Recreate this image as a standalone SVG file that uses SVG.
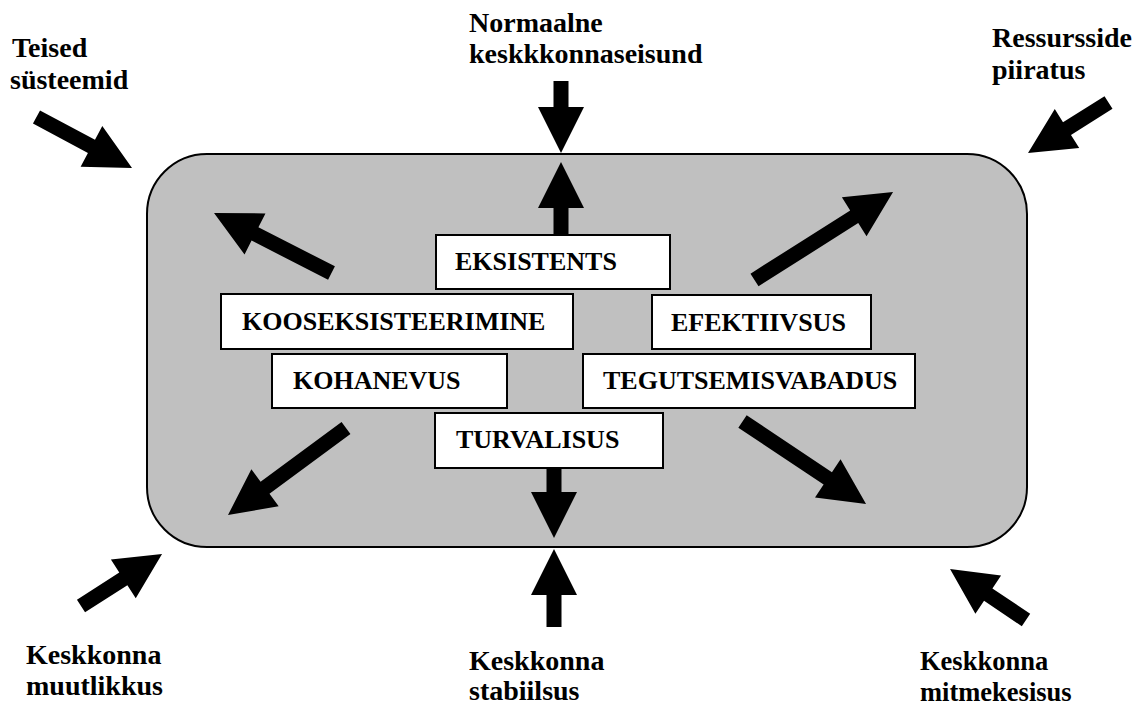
<svg xmlns="http://www.w3.org/2000/svg" width="1139" height="705" viewBox="0 0 1139 705">
<style>
.bg{fill:#fff}
.sys{fill:#c0c0c0;stroke:#000;stroke-width:2}
.box{fill:#fff;stroke:#000;stroke-width:2}
text{font-family:'Liberation Serif',Tinos,'Times New Roman','DejaVu Serif',serif;font-weight:bold;fill:#000}
.in{font-size:26px}
.out{font-size:28px}
.sm{font-size:26.5px}
.arr{fill:#000}
</style>
<rect class="bg" x="0" y="0" width="1139" height="705"/>
<g id="system">
<rect class="sys" x="147" y="154" width="880" height="393" rx="60" ry="60"/>
</g>
<g id="connectors">
<path class="arr" transform="translate(36.5,117) rotate(28.1)" d="M0,-7.5 H62.3 V-23 L108.3,0 L62.3,23 V7.5 H0 Z"/>
<path class="arr" transform="translate(561,81) rotate(90)" d="M0,-7.5 H26 V-23 L72,0 L26,23 V7.5 H0 Z"/>
<path class="arr" transform="translate(561,234) rotate(-90)" d="M0,-7.5 H26 V-23 L72,0 L26,23 V7.5 H0 Z"/>
<path class="arr" transform="translate(1108.5,102.5) rotate(147.9)" d="M0,-7.5 H49 V-23 L95,0 L49,23 V7.5 H0 Z"/>
<path class="arr" transform="translate(754.5,280) rotate(-32.4)" d="M0,-7.5 H118.1 V-23 L164.1,0 L118.1,23 V7.5 H0 Z"/>
<path class="arr" transform="translate(331.5,273) rotate(207.05)" d="M0,-7.5 H85.9 V-23 L131.9,0 L85.9,23 V7.5 H0 Z"/>
<path class="arr" transform="translate(346,428) rotate(143.6)" d="M0,-7.5 H100.6 V-23 L146.6,0 L100.6,23 V7.5 H0 Z"/>
<path class="arr" transform="translate(554,465) rotate(90)" d="M0,-7.5 H27 V-23 L73,0 L27,23 V7.5 H0 Z"/>
<path class="arr" transform="translate(554,627) rotate(-90)" d="M0,-7.5 H32 V-23 L78,0 L32,23 V7.5 H0 Z"/>
<path class="arr" transform="translate(81,606) rotate(-32.7)" d="M0,-7.5 H50.3 V-23 L96.3,0 L50.3,23 V7.5 H0 Z"/>
<path class="arr" transform="translate(742.5,421.5) rotate(33.7)" d="M0,-7.5 H102.5 V-23 L148.5,0 L102.5,23 V7.5 H0 Z"/>
<path class="arr" transform="translate(1026,620) rotate(213.9)" d="M0,-7.5 H45.5 V-23 L91.5,0 L45.5,23 V7.5 H0 Z"/>
</g>
<g id="eksistents">
<rect class="box" x="436" y="235" width="234" height="54"/>
<text class="in" x="455" y="270">EKSISTENTS</text>
</g>
<g id="kooseksisteerimine">
<rect class="box" x="221" y="294" width="352" height="55"/>
<text class="in" x="242" y="330">KOOSEKSISTEERIMINE</text>
</g>
<g id="efektiivsus">
<rect class="box" x="652" y="295" width="219" height="54"/>
<text class="in" x="671" y="331">EFEKTIIVSUS</text>
</g>
<g id="kohanevus">
<rect class="box" x="272" y="354" width="235" height="54"/>
<text class="in" x="293" y="389">KOHANEVUS</text>
</g>
<g id="tegutsemisvabadus">
<rect class="box" x="583" y="354" width="332" height="54"/>
<text class="in" x="603" y="389">TEGUTSEMISVABADUS</text>
</g>
<g id="turvalisus">
<rect class="box" x="435" y="413" width="228" height="55"/>
<text class="in" x="456" y="448">TURVALISUS</text>
</g>
<g id="label-teised">
<text class="out" x="12" y="57">Teised</text>
<text class="out" x="10" y="89">süsteemid</text>
</g>
<g id="label-normaalne">
<text class="out" x="469" y="32">Normaalne</text>
<text class="out" x="469" y="63">keskkkonnaseisund</text>
</g>
<g id="label-ressursside">
<text class="out" x="992" y="47">Ressursside</text>
<text class="out" x="992" y="79">piiratus</text>
</g>
<g id="label-muutlikkus">
<text class="out" x="26" y="664">Keskkonna</text>
<text class="out" x="26" y="695">muutlikkus</text>
</g>
<g id="label-stabiilsus">
<text class="out" x="469" y="670">Keskkonna</text>
<text class="out" x="469" y="700">stabiilsus</text>
</g>
<g id="label-mitmekesisus">
<text class="sm" x="920" y="670">Keskkonna</text>
<text class="sm" x="920" y="701">mitmekesisus</text>
</g>
</svg>
